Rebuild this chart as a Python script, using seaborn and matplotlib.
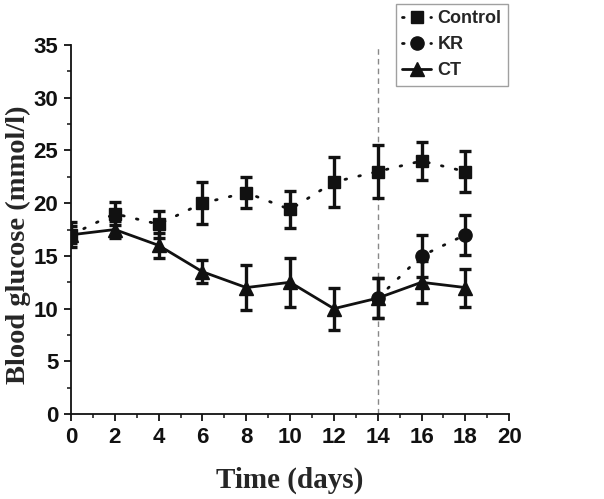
import pandas as pd
import matplotlib.pyplot as plt
import seaborn as sns
import numpy as np

# data
days = [0, 2, 4, 6, 8, 10, 12, 14, 16, 18]
control = [17, 19, 18, 20, 21, 19.4, 22, 23, 24, 23]
control_err = [1.2, 1.1, 1.3, 2.0, 1.5, 1.8, 2.4, 2.5, 1.8, 1.9]
ct = [17, 17.5, 16, 13.5, 12, 12.5, 10, 11, 12.5, 12]
ct_err = [0.8, 0.8, 1.2, 1.1, 2.1, 2.3, 2.0, 1.9, 2.0, 1.8]
kr_days = [14, 16, 18]
kr = [11, 15, 17]
kr_err = [1.9, 2.0, 1.9]

sns.set_style('ticks')

df = pd.concat([
    pd.DataFrame({'day': days, 'glucose': control, 'err': control_err, 'group': 'Control'}),
    pd.DataFrame({'day': kr_days, 'glucose': kr, 'err': kr_err, 'group': 'KR'}),
    pd.DataFrame({'day': days, 'glucose': ct, 'err': ct_err, 'group': 'CT'}),
])

fig = plt.figure(figsize=(6.04, 4.99), dpi=100)
ax = fig.add_axes([0.1175, 0.170, 0.7255, 0.740])

styles = {
    'Control': dict(marker='s', ms=8.5, dashes=(0.6, 4.5)),
    'KR': dict(marker='o', ms=9.5, dashes=(0.6, 4.5)),
    'CT': dict(marker='^', ms=10, dashes=None),
}

for name in ['Control', 'KR', 'CT']:
    sub = df[df['group'] == name]
    st = styles[name]
    ax.errorbar(sub['day'], sub['glucose'], yerr=sub['err'], fmt='none',
                ecolor='#111111', elinewidth=2.4, capsize=4, capthick=2.4, zorder=3)
    line, = ax.plot(sub['day'], sub['glucose'], color='#111111', lw=2.0,
                    marker=st['marker'], ms=st['ms'], label=name, zorder=4)
    if st['dashes'] is not None:
        line.set_dashes(st['dashes'])
        line.set_dash_capstyle('round')

ax.axvline(14, color='#888888', lw=1.0, ls=(0, (4, 3)), zorder=1)

ax.set_xlim(0, 20)
ax.set_ylim(0, 35)
ax.set_xticks(range(0, 21, 2))
ax.set_xticks(range(1, 20, 2), minor=True)
ax.set_yticks(range(0, 36, 5))
ax.set_yticks(np.arange(2.5, 35, 5), minor=True)
sns.despine(ax=ax)
for sp in ['left', 'bottom']:
    ax.spines[sp].set_linewidth(1.3)
    ax.spines[sp].set_color('#111111')
ax.tick_params(axis='both', which='major', direction='out', length=5, width=1.3,
               colors='#111111', labelsize=16, pad=4)
ax.tick_params(axis='both', which='minor', direction='out', length=3, width=1.1,
               colors='#111111')
for lab in ax.get_xticklabels() + ax.get_yticklabels():
    lab.set_fontfamily('Liberation Sans')
    lab.set_fontweight('bold')

ax.set_xlabel('Time (days)', fontfamily='Liberation Serif', fontweight='bold',
              fontsize=21, labelpad=14)
ax.set_ylabel('Blood glucose (mmol/l)', fontfamily='Liberation Serif',
              fontweight='bold', fontsize=20.5)
ax.yaxis.set_label_coords(-0.092, 0.46)

leg = ax.legend(loc='upper left', bbox_to_anchor=(0.742, 1.111), frameon=True,
                borderaxespad=0, fancybox=False, edgecolor='#888888',
                handlelength=1.6, handletextpad=0.35, labelspacing=0.5,
                borderpad=0.35,
                prop={'family': 'Liberation Sans', 'weight': 'bold', 'size': 13})
leg.get_frame().set_linewidth(1.0)

fig.savefig('out.png', dpi=100)
